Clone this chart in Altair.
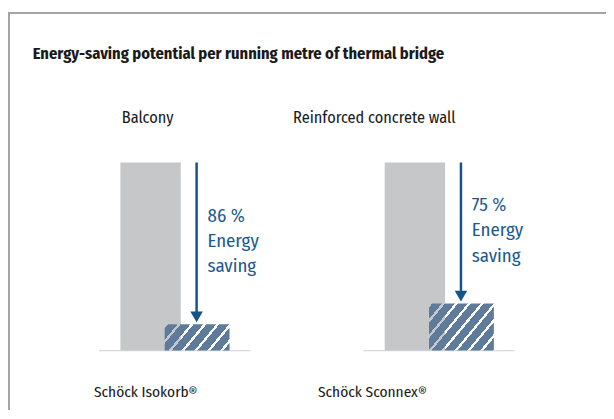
import math
import altair as alt
import pandas as pd

# ---- data ----
categories = ["Balcony", "Reinforced concrete wall"]
products = ["Schöck Isokorb®", "Schöck Sconnex®"]
reference_loss = [100, 100]          # conventional connection = 100 %
energy_saving = [86, 75]             # % saving with the Schöck product
title_text = "Energy-saving potential per running metre of thermal bridge"
saving_word = ["Energy", "saving"]

df = pd.DataFrame({
    "category": categories,
    "product": products,
    "ref": reference_loss,
    "saving": energy_saving,
})
df["remain"] = df["ref"] - df["saving"]
df["label"] = df["saving"].astype(str) + " %\n" + "\n".join(saving_word)

# ---- style ----
FONT = "Fira Sans Condensed, Roboto Condensed, DejaVu Sans Condensed, sans-serif"
GRAY = "#c6c7c8"
HATCH = "#5f7b9c"
ARROW = "#14548a"
TEXT_BLUE = "#1d5a8c"
FRAME = "#a4a4a4"

W, H = 604, 404
Y_RANGE = [344, 154]
X_RANGE = [35, 569]
PLOT_H = Y_RANGE[0] - Y_RANGE[1]

xs = alt.Scale(domain=categories, range=X_RANGE, paddingInner=0, paddingOuter=0)
ys = alt.Scale(domain=[0, 100], range=Y_RANGE)
X = alt.X("category:N", scale=xs, axis=None, sort=categories)


def hatch_gradient(w, h, m=1.2, period=10.0, gap=2.4, color=HATCH):
    s = (m * w + h) / (m * m * w * w + h * h)
    p, q = s * m * w, s * h
    D = (m * w + h) / math.sqrt(1 + m * m)
    stops = []
    k = 0
    clear = "rgba(255,255,255,0)"
    while k * period < D:
        a = k * period / D
        b = min((k * period + gap) / D, 1.0)
        c = min((k + 1) * period / D, 1.0)
        stops += [alt.GradientStop(offset=a, color=clear),
                  alt.GradientStop(offset=b, color=clear),
                  alt.GradientStop(offset=b, color=color),
                  alt.GradientStop(offset=c, color=color)]
        k += 1
    return alt.LinearGradient(gradient="linear", x1=0, y1=0, x2=p, y2=q, stops=stops)


base = alt.Chart(df)

baseline = base.transform_calculate(zero="0").mark_tick(
    size=153, thickness=1.2, color="#c9c9c9"
).encode(x=X, y=alt.Y("zero:Q", scale=ys, axis=None))

gray = base.mark_bar(width=61, xOffset=-24.5, color=GRAY).encode(
    x=X, y=alt.Y("ref:Q", scale=ys, axis=None), y2=alt.datum(0)
)

HW = 65.5
hatched_layers = []
for cat, rem in zip(df["category"], df["remain"]):
    h = PLOT_H * rem / 100.0
    hatched_layers.append(
        base.transform_filter(alt.datum.category == cat).mark_bar(
            width=HW, xOffset=22.5, color=hatch_gradient(HW, h)
        ).encode(x=X, y=alt.Y("remain:Q", scale=ys, axis=None), y2=alt.datum(0))
    )

shaft = base.mark_rule(color=ARROW, strokeWidth=2.5, xOffset=22, y2Offset=-8).encode(
    x=X, y=alt.Y("ref:Q", scale=ys, axis=None), y2="remain:Q"
)
head = base.mark_point(shape="triangle-down", size=160, filled=True, opacity=1,
                       color=ARROW, xOffset=22, yOffset=-7.5).encode(
    x=X, y=alt.Y("remain:Q", scale=ys, axis=None)
)
arrow_text = base.transform_calculate(mid="(datum.ref + datum.remain) / 2").mark_text(
    align="left", baseline="middle", lineBreak="\n", lineHeight=25.5,
    font=FONT, fontSize=19, color=TEXT_BLUE, xOffset=33, yOffset=-28
).encode(x=X, y=alt.Y("mid:Q", scale=ys, axis=None), text="label:N")

one = alt.Data(values=[{}])


def label(txt, x, y, size, weight="normal", align="center", color="#1a1a1a"):
    return alt.Chart(one).mark_text(
        align=align, baseline="middle", font=FONT, fontSize=size,
        fontWeight=weight, color=color
    ).encode(x=alt.value(x), y=alt.value(y), text=alt.value(txt))


title = label(title_text, 25, 44, 16.6, weight="bold", align="left")
top1 = label(categories[0], 141, 109, 16.4)
top2 = label(categories[1], 370, 109, 16.4)
bot1 = label(products[0], 139, 386, 15.5)
bot2 = label(products[1], 368, 386, 15.5)

frame_left = alt.Chart(one).mark_rule(color=FRAME, strokeWidth=2).encode(
    x=alt.value(1), y=alt.value(2), y2=alt.value(H))
frame_top = alt.Chart(one).mark_rule(color=FRAME, strokeWidth=2).encode(
    x=alt.value(0), x2=alt.value(W), y=alt.value(3))

chart = alt.layer(
    frame_left, frame_top, baseline, gray, *hatched_layers, shaft, head, arrow_text,
    title, top1, top2, bot1, bot2
).properties(
    width=W, height=H, padding=0, autosize=alt.AutoSizeParams(type="none"),
    background="white"
).configure_view(stroke=None)

chart.save("out.html", embed_options={"renderer": "svg", "actions": False})
